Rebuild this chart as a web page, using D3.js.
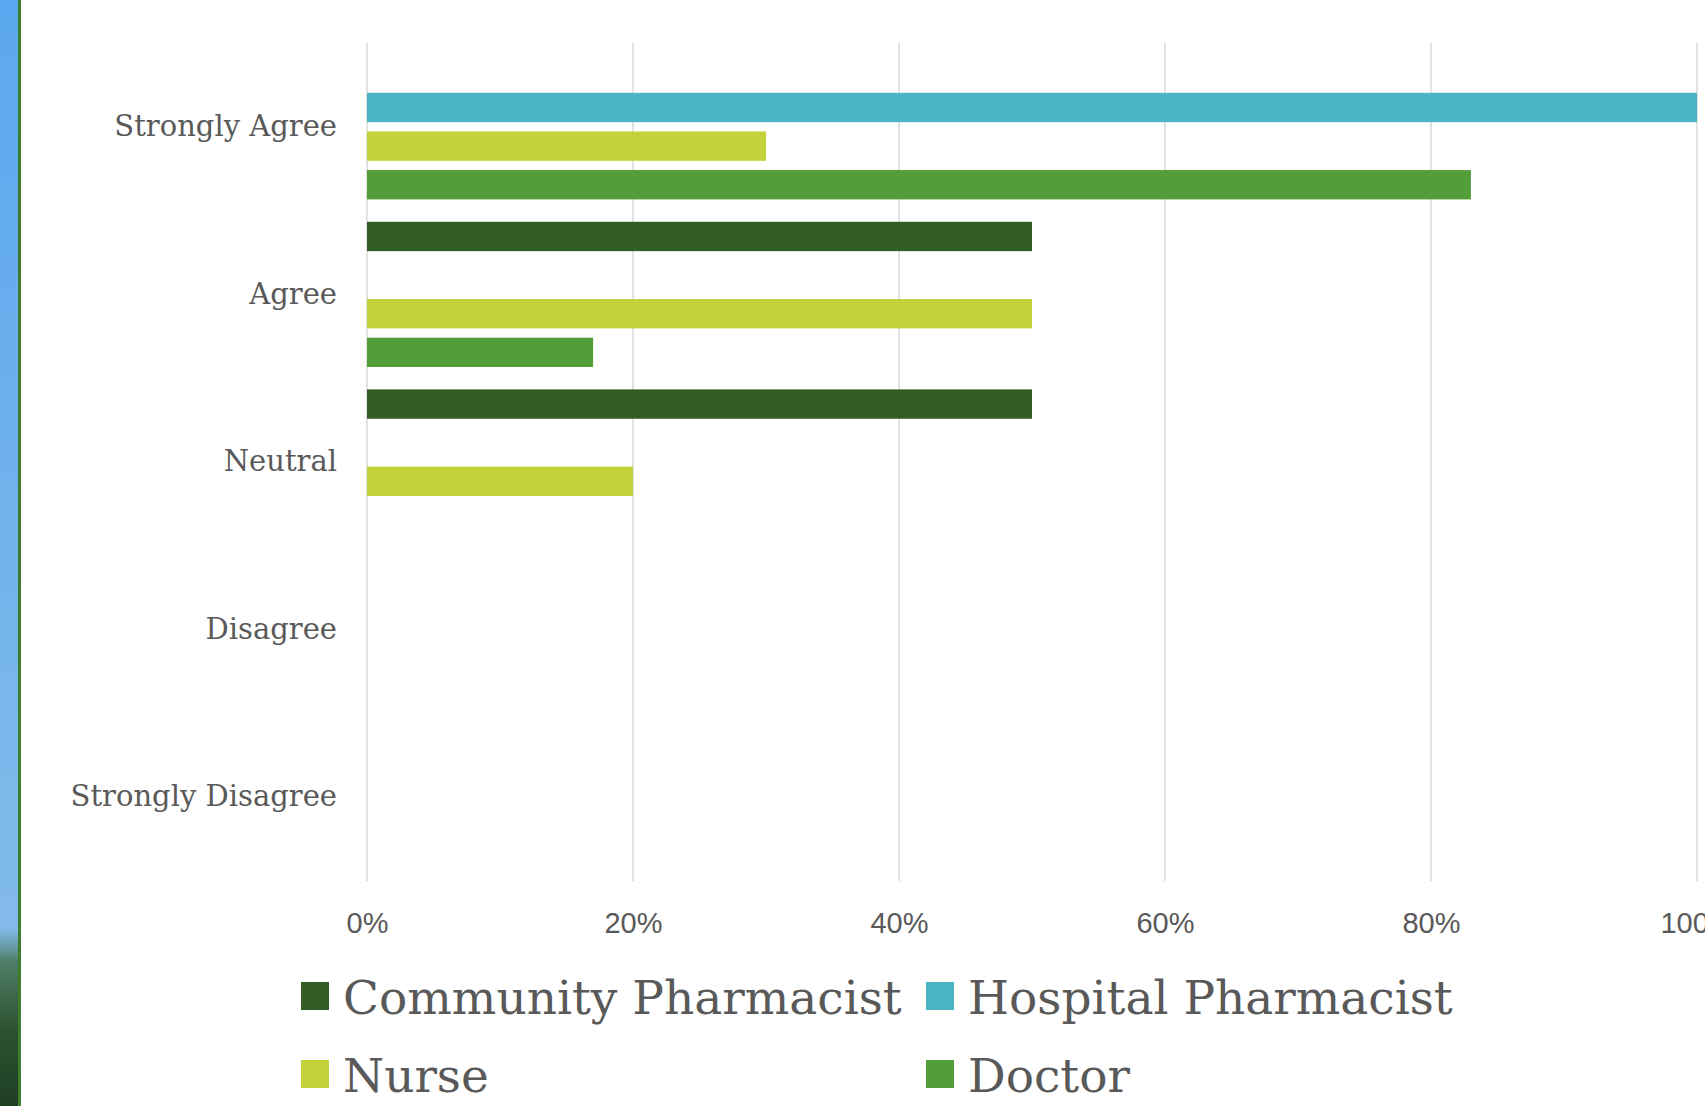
<!DOCTYPE html>
<html>
<head>
<meta charset="utf-8">
<script src="https://cdn.jsdelivr.net/npm/d3@7"></script>
<style>
  html, body { margin: 0; padding: 0; background: #fff; overflow: hidden; }
  svg { display: block; }
</style>
</head>
<body>
<div id="chart"></div>
<script>
// Survey answers (share of respondents per profession)
const categories = ["Strongly Agree", "Agree", "Neutral", "Disagree", "Strongly Disagree"];
const seriesNames = ["Community Pharmacist", "Hospital Pharmacist", "Nurse", "Doctor"];
const communityPharmacist = [0, 0.5, 0.5, 0, 0];
const hospitalPharmacist = [1, 0, 0, 0, 0];
const nurse = [0.3, 0.5, 0.2, 0, 0];
const doctor = [0.83, 0.17, 0, 0, 0];
const tickValues = [0, 0.2, 0.4, 0.6, 0.8, 1];
const seriesColors = ["#325e23", "#4bb5c5", "#c3d13a", "#549e39"];

const width = 1705, height = 1106;
const plot = { left: 367, right: 1697, top: 43, bottom: 881 };

const svg = d3.select("#chart").append("svg")
    .attr("width", width)
    .attr("height", height);

// left decorative strip (sky + trees) with its green border
const defs = svg.append("defs");
const sky = defs.append("linearGradient").attr("id", "sky").attr("x1", 0).attr("y1", 0).attr("x2", 0).attr("y2", 1);
sky.append("stop").attr("offset", "0%").attr("stop-color", "#5ba7ef");
sky.append("stop").attr("offset", "84%").attr("stop-color", "#82bbe9");
sky.append("stop").attr("offset", "87%").attr("stop-color", "#4f7d66");
sky.append("stop").attr("offset", "93%").attr("stop-color", "#2c5230");
sky.append("stop").attr("offset", "100%").attr("stop-color", "#1f3f24");
svg.append("rect").attr("x", 0).attr("y", 0).attr("width", 18).attr("height", height).attr("fill", "url(#sky)");
svg.append("rect").attr("x", 18).attr("y", 0).attr("width", 3).attr("height", height).attr("fill", "#3f7d2e");

// data rows: one object per category
const rows = categories.map((c, i) => ({
    category: c,
    values: [communityPharmacist[i], hospitalPharmacist[i], nurse[i], doctor[i]]
}));

const x = d3.scaleLinear().domain([0, 1]).range([plot.left, plot.right]);
const y0 = d3.scaleBand().domain(categories).range([plot.top, plot.bottom]).padding(0);
const y1 = d3.scaleBand().domain(seriesNames).range([0, y0.bandwidth()])
    .paddingInner(0.24).paddingOuter(0.29);

// vertical gridlines
svg.append("g")
    .selectAll("line")
    .data(tickValues)
    .enter()
    .append("line")
    .attr("x1", d => x(d))
    .attr("x2", d => x(d))
    .attr("y1", plot.top)
    .attr("y2", plot.bottom)
    .attr("stroke", "#d9d9d9")
    .attr("stroke-width", 1.5);

// bars
const groups = svg.append("g")
    .selectAll("g")
    .data(rows)
    .enter()
    .append("g")
    .attr("transform", d => `translate(0,${y0(d.category)})`);

groups.selectAll("rect")
    .data(d => d.values.map((v, j) => ({ name: seriesNames[j], value: v, color: seriesColors[j] })).filter(d => d.value > 0))
    .enter()
    .append("rect")
    .attr("x", x(0))
    .attr("y", d => y1(d.name))
    .attr("width", d => x(d.value) - x(0))
    .attr("height", y1.bandwidth())
    .attr("fill", d => d.color);

// x axis labels (the 100% label runs off the right edge, as in the slide)
const xAxis = svg.append("g")
    .attr("transform", `translate(0,${plot.bottom})`)
    .call(d3.axisBottom(x).tickValues(tickValues).tickFormat(d3.format(".0%")).tickSize(0).tickPadding(31));
xAxis.select(".domain").remove();
xAxis.selectAll("text")
    .style("font-family", "'Liberation Sans', Arial, sans-serif")
    .style("font-size", "29px")
    .attr("fill", "#595959");

// category labels
const yAxis = svg.append("g")
    .attr("transform", `translate(${plot.left},0)`)
    .call(d3.axisLeft(y0).tickSize(0).tickPadding(30));
yAxis.select(".domain").remove();
yAxis.selectAll("text")
    .style("font-family", "Rockwell, 'DejaVu Serif', serif")
    .style("font-size", "29px")
    .attr("fill", "#595959");

// legend, two columns
const legendCols = [301, 926];
const legendRows = [982, 1060];
const legend = svg.append("g")
    .selectAll("g")
    .data(seriesNames)
    .enter()
    .append("g")
    .attr("transform", (d, i) => `translate(${legendCols[i % 2]},${legendRows[Math.floor(i / 2)]})`);

legend.append("rect")
    .attr("width", 28)
    .attr("height", 28)
    .attr("fill", (d, i) => seriesColors[i]);

legend.append("text")
    .attr("x", 42)
    .attr("y", 32)
    .text(d => d)
    .style("font-family", "Rockwell, 'DejaVu Serif', serif")
    .style("font-size", "47px")
    .attr("fill", "#595959");
</script>
</body>
</html>
